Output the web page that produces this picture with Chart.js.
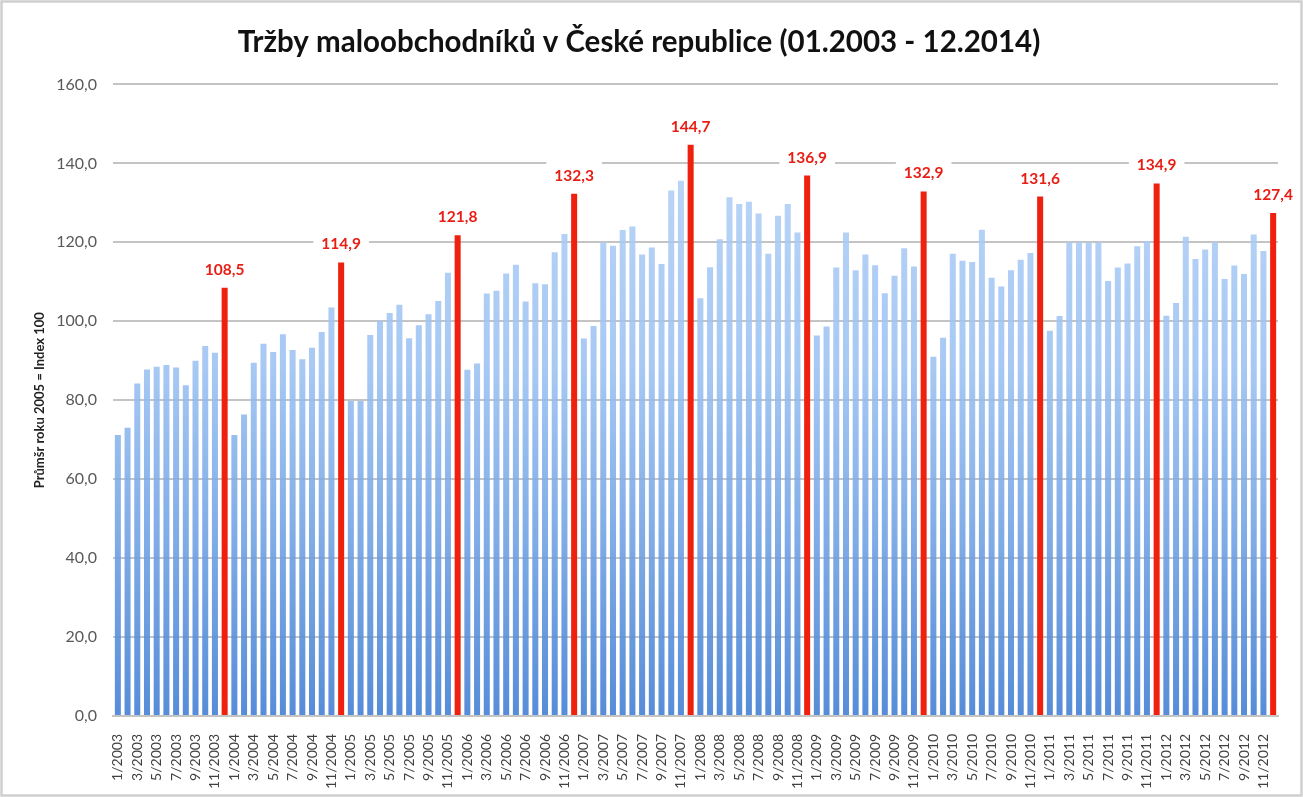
<!DOCTYPE html>
<html lang="cs">
<head>
  <meta charset="UTF-8">
  <title>Tržby maloobchodníků v České republice</title>
  <script src="https://cdn.jsdelivr.net/npm/chart.js"></script>
  <style>
    body {
      margin: 0;
      background: white;
      overflow: hidden;
    }
    #wrap {
      width: 1303px;
      height: 797px;
      position: relative;
    }
  </style>
</head>
<body>

<div id="wrap"><canvas id="salesChart"></canvas></div>

<script>
  // Index tržeb (průměr 2005 = 100), měsíce 1-12
  const years = [2003, 2004, 2005, 2006, 2007, 2008, 2009, 2010, 2011, 2012];
  const y2003 = [71.2, 73.0, 84.2, 87.8, 88.5, 88.9, 88.3, 83.8, 90.0, 93.7, 92.0, 108.5];
  const y2004 = [71.2, 76.4, 89.5, 94.3, 92.2, 96.7, 92.7, 90.4, 93.3, 97.3, 103.5, 114.9];
  const y2005 = [79.8, 79.8, 96.5, 100.1, 102.1, 104.2, 95.7, 99.0, 101.8, 105.1, 112.3, 121.8];
  const y2006 = [87.7, 89.3, 107.0, 107.7, 112.1, 114.3, 105.0, 109.6, 109.4, 117.5, 122.1, 132.3];
  const y2007 = [95.6, 98.8, 120.0, 119.1, 123.1, 124.0, 116.9, 118.7, 114.5, 133.1, 135.6, 144.7];
  const y2008 = [105.8, 113.7, 120.8, 131.4, 129.7, 130.3, 127.3, 117.1, 126.7, 129.7, 122.5, 136.9];
  const y2009 = [96.4, 98.7, 113.6, 122.5, 112.9, 116.9, 114.2, 107.1, 111.5, 118.5, 113.9, 132.9];
  const y2010 = [91.0, 95.8, 117.1, 115.3, 115.0, 123.2, 111.0, 108.8, 112.9, 115.6, 117.3, 131.6];
  const y2011 = [97.6, 101.3, 120.0, 120.0, 120.0, 120.0, 110.2, 113.6, 114.6, 119.0, 120.3, 134.9];
  const y2012 = [101.4, 104.6, 121.4, 115.8, 118.2, 120.0, 110.7, 114.1, 112.0, 122.0, 117.8, 127.4];
  const yTicks = [0, 20, 40, 60, 80, 100, 120, 140, 160];

  const values = [].concat(y2003, y2004, y2005, y2006, y2007, y2008, y2009, y2010, y2011, y2012);
  const labels = [];
  years.forEach(y => {
    for (let m = 1; m <= 12; m++) labels.push(m + "/" + y);
  });

  const fmt = v => v.toFixed(1).replace(".", ",");

  function barColor(c) {
    if (c.dataIndex % 12 === 11) return "rgb(240,32,14)";
    const area = c.chart.chartArea;
    if (!area) return "rgba(110,160,225,0.85)";
    const g = c.chart.ctx.createLinearGradient(0, area.top, 0, area.bottom);
    g.addColorStop(0, "rgba(186,212,247,0.88)");
    g.addColorStop(0.45, "rgba(154,193,242,0.88)");
    g.addColorStop(1, "rgba(68,128,212,0.9)");
    return g;
  }

  // bílé pozadí a rámeček grafu
  const frame = {
    id: "frame",
    beforeDraw(chart) {
      const c = chart.ctx;
      c.save();
      c.fillStyle = "white";
      c.fillRect(0, 0, chart.width, chart.height);
      c.restore();
    },
    afterDraw(chart) {
      const c = chart.ctx;
      c.save();
      c.strokeStyle = "#cfcfcf";
      c.lineWidth = 2.5;
      c.strokeRect(1.5, 1.5, chart.width - 3, chart.height - 3);
      c.restore();
    }
  };

  // popisky prosincových sloupců
  const decLabels = {
    id: "decLabels",
    afterDatasetsDraw(chart) {
      const c = chart.ctx;
      const meta = chart.getDatasetMeta(0);
      c.save();
      c.font = "bold 15.5px Lato";
      c.textAlign = "center";
      c.textBaseline = "middle";
      meta.data.forEach((bar, i) => {
        if (i % 12 !== 11) return;
        const txt = fmt(values[i]);
        const w = c.measureText(txt).width;
        const cy = bar.y - 18;
        c.fillStyle = "white";
        c.fillRect(bar.x - w / 2 - 8, cy - 14, w + 16, 26);
        c.fillStyle = "rgb(232,30,20)";
        c.fillText(txt, bar.x, cy);
      });
      c.restore();
    }
  };

  new Chart(document.getElementById("salesChart"), {
    type: "bar",
    data: {
      labels: labels,
      datasets: [{
        data: values,
        backgroundColor: barColor,
        barPercentage: 0.62,
        categoryPercentage: 1.0
      }]
    },
    options: {
      responsive: true,
      maintainAspectRatio: false,
      animation: false,
      layout: { padding: { left: 0, right: 25, top: 0, bottom: 0 } },
      plugins: {
        legend: { display: false },
        tooltip: { enabled: false },
        title: {
          display: true,
          text: "Tržby maloobchodníků v České republice (01.2003 - 12.2014)",
          color: "#111",
          font: { family: "Lato", size: 29.5, weight: "bold", lineHeight: 1.2 },
          padding: { top: 25, bottom: 24 }
        }
      },
      scales: {
        x: {
          grid: { display: false },
          border: { display: true, color: "#c4c4c4", width: 2 },
          ticks: {
            autoSkip: false,
            maxRotation: 90,
            minRotation: 90,
            padding: 10,
            color: "#404040",
            font: { family: "Lato", size: 14 },
            callback: function (v, i) { return i % 2 === 0 ? labels[i] : ""; }
          },
          afterFit(scale) { scale.height = 81; }
        },
        y: {
          min: 0,
          max: 160,
          afterBuildTicks(scale) { scale.ticks = yTicks.map(v => ({ value: v })); },
          grid: { color: "#c4c4c4", lineWidth: 2, drawTicks: false },
          border: { display: false },
          ticks: {
            padding: 16,
            color: "#595959",
            font: { family: "Lato", size: 16 },
            callback: v => fmt(v)
          },
          title: {
            display: true,
            text: "Průmšr roku 2005 = Index 100",
            color: "#222",
            font: { family: "Lato", size: 13, weight: "bold" },
            padding: { top: 32, bottom: 0 }
          },
          afterFit(scale) { scale.width = 113; }
        }
      }
    },
    plugins: [frame, decLabels]
  });
</script>

</body>
</html>
